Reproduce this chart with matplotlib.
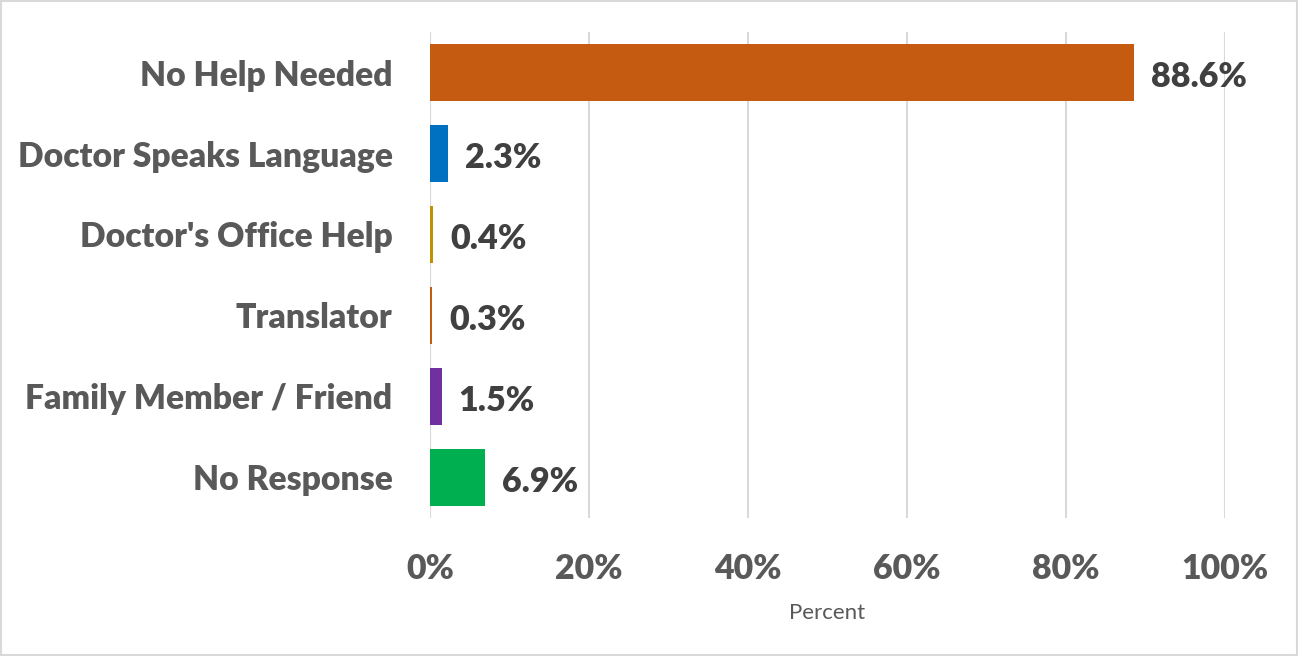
import matplotlib.pyplot as plt
from matplotlib.patches import Rectangle

categories = ["No Help Needed", "Doctor Speaks Language", "Doctor's Office Help",
              "Translator", "Family Member / Friend", "No Response"]
values = [88.6, 2.3, 0.4, 0.3, 1.5, 6.9]
colors = ["#C55A11", "#0070C0", "#BF9000", "#C55A11", "#7030A0", "#00B050"]
xticks = [0, 20, 40, 60, 80, 100]

plt.rcParams['font.family'] = ['Lato', 'DejaVu Sans']

fig = plt.figure(figsize=(12.98, 6.56), dpi=100)
ax = fig.add_axes([0.3313, 0.2104, 0.6125, 0.7408])

y = range(len(categories))
ax.barh(y, values, height=0.71, color=colors, zorder=3)
ax.set_ylim(len(categories) - 0.5, -0.5)
ax.set_xlim(0, 100)
ax.set_yticks(list(y))
ax.set_yticklabels(categories, fontsize=24.2, fontweight='heavy', color='#595959')
ax.set_xticks(xticks)
ax.set_xticklabels([f"{t}%" for t in xticks], fontsize=24.4, fontweight='heavy', color='#595959')
ax.tick_params(axis='both', length=0)
ax.tick_params(axis='y', pad=27)
ax.tick_params(axis='x', pad=25)
ax.grid(axis='x', color='#D9D9D9', linewidth=1.5, zorder=0)
for s in ax.spines.values():
    s.set_visible(False)

for i, v in enumerate(values):
    ax.text(v + 2.1, i + 0.05, f"{v}%", va='center', ha='left', fontsize=24.6,
            fontweight='heavy', color='#404040')

ax.set_xlabel("Percent", fontsize=16, color='#595959', labelpad=13)

fig.patches.append(Rectangle((0.001, 0.001), 0.998, 0.998, transform=fig.transFigure,
                             fill=False, edgecolor='#D9D9D9', linewidth=1.5))

fig.savefig("out.png", dpi=100, facecolor='white')
